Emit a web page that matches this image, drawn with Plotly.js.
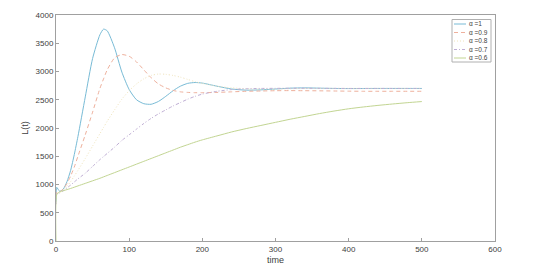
<!DOCTYPE html>
<html>
<head>
<meta charset="utf-8">
<script src="https://cdn.plot.ly/plotly-3.0.1.min.js"></script>
<style>html,body{margin:0;padding:0;background:#fff;}#chart{width:540px;height:270px;}</style>
</head>
<body>
<div id="chart"></div>
<script>
const time = [0,1,5,10,15,20,25,30,40,50,60,65,70,80,90,100,110,120,130,140,150,160,170,180,190,200,220,240,260,280,300,320,340,360,380,400,420,440,460,480,500];

const L_a10 = [700,950,880,920,1050,1250,1530,1850,2550,3230,3650,3750,3720,3420,2990,2680,2500,2430,2420,2470,2560,2660,2740,2790,2805,2795,2740,2690,2670,2675,2690,2705,2710,2705,2700,2698,2699,2700,2700,2700,2700];
const L_a09 = [800,860,870,920,1020,1150,1310,1500,1880,2280,2700,2870,3030,3240,3300,3270,3170,3030,2890,2780,2710,2665,2640,2630,2625,2625,2630,2640,2650,2655,2660,2662,2660,2658,2655,2652,2650,2650,2650,2650,2650];
const L_a08 = [750,840,860,900,970,1050,1150,1250,1460,1680,1900,2010,2120,2320,2510,2660,2780,2870,2930,2955,2950,2930,2900,2860,2820,2790,2740,2710,2695,2690,2690,2695,2700,2700,2700,2700,2700,2700,2700,2700,2700];
const L_a07 = [650,830,850,890,940,990,1045,1100,1200,1320,1440,1495,1550,1660,1780,1880,1980,2080,2170,2250,2320,2390,2450,2510,2560,2600,2650,2680,2695,2700,2702,2703,2703,2702,2701,2700,2700,2700,2700,2700,2700];
const L_a06 = [0,820,870,890,910,930,952,975,1020,1065,1110,1135,1160,1210,1260,1310,1360,1410,1460,1510,1560,1610,1660,1705,1750,1790,1860,1930,1990,2045,2100,2155,2205,2255,2300,2340,2372,2400,2425,2448,2468];

const names = ['\u03b1 =1','\u03b1 =0.9','\u03b1 =0.8','\u03b1 =0.7','\u03b1 =0.6'];
const series = [L_a10, L_a09, L_a08, L_a07, L_a06];
const colors = ['#78bbd6','#eeb09c','#f0e4bc','#bfaed4','#c2d592'];
const dashes = ['solid','4px,3px','1px,2px','3px,2px,1px,2px','solid'];

const traces = series.map((y,i)=>({
  x: time, y: y, type:'scatter', mode:'lines', name: names[i], showlegend:false,
  line:{color:colors[i], width:1, dash:dashes[i], shape:'spline', smoothing:0.6}
}));

// plot area in px: left 56, right 495, top 15, bottom 241
const PL=56, PW=439, PB=241, PH=226;
const px2x = p => (p-PL)/PW;
const py2y = p => (PB-p)/PH;

const shapes = [{type:'rect', xref:'paper', yref:'paper',
  x0:px2x(452), x1:px2x(491), y0:py2y(62), y1:py2y(19.5),
  line:{color:'#b0b0b0', width:1}, fillcolor:'#fff', layer:'above'}];
const annotations = [];
const rowY = [24, 32.5, 41, 49.5, 58];
names.forEach((n,i)=>{
  shapes.push({type:'line', xref:'paper', yref:'paper', layer:'above',
    x0:px2x(454), x1:px2x(466), y0:py2y(rowY[i]), y1:py2y(rowY[i]),
    line:{color:colors[i], width:1, dash:dashes[i]}});
  annotations.push({xref:'paper', yref:'paper', x:px2x(467), y:py2y(rowY[i]),
    xanchor:'left', yanchor:'middle', showarrow:false, text:n,
    font:{family:'Liberation Sans, Arial, sans-serif', size:6.5, color:'#404040'}});
});

const axisCommon = {
  showgrid:false, zeroline:false, showline:true, linecolor:'#a0a0a0', linewidth:1,
  mirror:true, ticks:'inside', ticklen:3, tickcolor:'#a0a0a0',
  tickfont:{family:'Liberation Sans, Arial, sans-serif', size:8, color:'#404040'}
};

const layout = {
  width:540, height:270,
  margin:{l:56, r:45, t:15, b:29},
  paper_bgcolor:'#fff', plot_bgcolor:'#fff',
  showlegend:false,
  shapes: shapes, annotations: annotations,
  xaxis: Object.assign({}, axisCommon, {range:[0,600], tickvals:[0,100,200,300,400,500,600],
    title:{text:'time', font:{family:'Liberation Sans, Arial, sans-serif', size:9, color:'#404040'}, standoff:4}}),
  yaxis: Object.assign({}, axisCommon, {range:[0,4000], tickvals:[0,500,1000,1500,2000,2500,3000,3500,4000],
    title:{text:'L(t)', font:{family:'Liberation Sans, Arial, sans-serif', size:9, color:'#404040'}, standoff:5}})
};

Plotly.newPlot('chart', traces, layout, {displayModeBar:false, staticPlot:true});
</script>
</body>
</html>
